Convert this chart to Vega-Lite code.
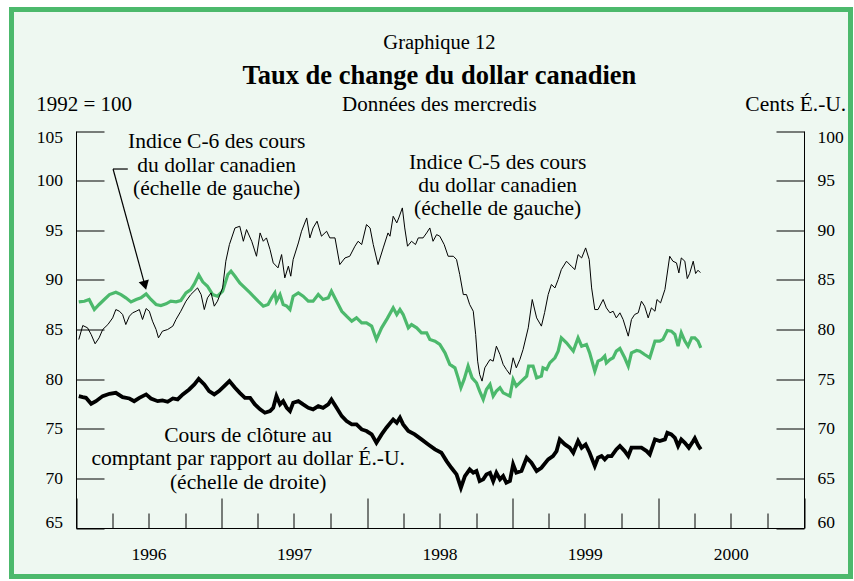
{
"$schema":"https://vega.github.io/schema/vega-lite/v6.json",
"width":839,"height":567,
"autosize":{"type":"none"},
"padding":{"left":11.5,"top":9.5,"right":3.5,"bottom":4.5},
"background":"#ffffff",
"config":{
 "view":{"fill":"#EEF8F1","stroke":"#4CB96C","strokeWidth":5},
 "font":"Liberation Serif",
 "text":{"font":"Liberation Serif","color":"#000000"},
 "axis":{"domainColor":"#000000","tickColor":"#000000","labelColor":"#000000","labelFont":"Liberation Serif","labelFontSize":17.5,"grid":false,"domainWidth":1,"tickWidth":1}
},
"datasets":{
"c6":[
{"date":"1996-01-08","valeur":87.78},{"date":"1996-01-22","valeur":87.85},{"date":"1996-02-03","valeur":88.02},{"date":"1996-02-16","valeur":87.01},{"date":"1996-02-28","valeur":87.52},{"date":"1996-03-12","valeur":88.02},{"date":"1996-03-25","valeur":88.52},{"date":"1996-04-10","valeur":88.76},{"date":"1996-04-23","valeur":88.52},{"date":"1996-05-05","valeur":88.19},{"date":"1996-05-18","valeur":87.78},{"date":"1996-05-31","valeur":88.02},{"date":"1996-06-12","valeur":88.19},{"date":"1996-06-25","valeur":88.59},{"date":"1996-07-07","valeur":88.02},{"date":"1996-07-20","valeur":87.52},{"date":"1996-08-01","valeur":87.42},{"date":"1996-08-14","valeur":87.58},{"date":"1996-08-26","valeur":87.85},{"date":"1996-09-08","valeur":87.78},{"date":"1996-09-20","valeur":87.92},{"date":"1996-10-03","valeur":88.69},{"date":"1996-10-15","valeur":89.03},{"date":"1996-10-24","valeur":89.6},{"date":"1996-11-04","valeur":90.5},{"date":"1996-11-14","valeur":89.8},{"date":"1996-11-26","valeur":89.36},{"date":"1996-12-09","valeur":88.52},{"date":"1996-12-21","valeur":88.36},{"date":"1997-01-03","valeur":88.86},{"date":"1997-01-16","valeur":90.54},{"date":"1997-01-24","valeur":90.87},{"date":"1997-02-03","valeur":90.37},{"date":"1997-02-15","valeur":89.7},{"date":"1997-02-28","valeur":89.19},{"date":"1997-03-13","valeur":88.69},{"date":"1997-03-25","valeur":88.19},{"date":"1997-04-02","valeur":87.85},{"date":"1997-04-15","valeur":87.35},{"date":"1997-04-27","valeur":87.52},{"date":"1997-05-06","valeur":88.19},{"date":"1997-05-14","valeur":88.69},{"date":"1997-05-18","valeur":87.85},{"date":"1997-05-27","valeur":88.52},{"date":"1997-06-04","valeur":87.52},{"date":"1997-06-13","valeur":87.35},{"date":"1997-06-21","valeur":87.01},{"date":"1997-06-29","valeur":88.36},{"date":"1997-07-12","valeur":88.69},{"date":"1997-07-24","valeur":88.36},{"date":"1997-08-06","valeur":87.85},{"date":"1997-08-18","valeur":87.85},{"date":"1997-08-31","valeur":88.52},{"date":"1997-09-12","valeur":88.02},{"date":"1997-09-25","valeur":88.19},{"date":"1997-10-03","valeur":88.86},{"date":"1997-10-16","valeur":87.85},{"date":"1997-10-29","valeur":86.84},{"date":"1997-11-10","valeur":86.34},{"date":"1997-11-23","valeur":85.84},{"date":"1997-12-05","valeur":86.17},{"date":"1997-12-18","valeur":85.67},{"date":"1997-12-30","valeur":85.67},{"date":"1998-01-12","valeur":85.34},{"date":"1998-01-24","valeur":84.0},{"date":"1998-02-06","valeur":85.17},{"date":"1998-02-20","valeur":86.1},{"date":"1998-03-07","valeur":87.18},{"date":"1998-03-16","valeur":86.51},{"date":"1998-03-24","valeur":87.01},{"date":"1998-04-01","valeur":86.51},{"date":"1998-04-14","valeur":85.17},{"date":"1998-04-22","valeur":85.5},{"date":"1998-05-05","valeur":85.17},{"date":"1998-05-17","valeur":84.66},{"date":"1998-05-30","valeur":84.66},{"date":"1998-06-07","valeur":84.0},{"date":"1998-06-20","valeur":83.83},{"date":"1998-07-02","valeur":83.49},{"date":"1998-07-15","valeur":82.65},{"date":"1998-07-27","valeur":81.48},{"date":"1998-08-09","valeur":81.14},{"date":"1998-08-17","valeur":80.13},{"date":"1998-08-24","valeur":79.13},{"date":"1998-09-01","valeur":79.97},{"date":"1998-09-11","valeur":81.31},{"date":"1998-09-21","valeur":80.13},{"date":"1998-10-02","valeur":79.63},{"date":"1998-10-10","valeur":78.79},{"date":"1998-10-19","valeur":77.95},{"date":"1998-10-27","valeur":78.96},{"date":"1998-11-05","valeur":79.46},{"date":"1998-11-13","valeur":78.29},{"date":"1998-11-21","valeur":78.79},{"date":"1998-11-30","valeur":79.13},{"date":"1998-12-08","valeur":78.62},{"date":"1998-12-16","valeur":78.46},{"date":"1998-12-25","valeur":78.29},{"date":"1999-01-02","valeur":79.97},{"date":"1999-01-10","valeur":79.3},{"date":"1999-01-23","valeur":79.8},{"date":"1999-02-05","valeur":80.3},{"date":"1999-02-10","valeur":81.31},{"date":"1999-02-21","valeur":81.31},{"date":"1999-03-02","valeur":80.13},{"date":"1999-03-14","valeur":80.3},{"date":"1999-03-18","valeur":81.14},{"date":"1999-03-27","valeur":80.97},{"date":"1999-04-04","valeur":81.64},{"date":"1999-04-17","valeur":82.15},{"date":"1999-04-25","valeur":82.82},{"date":"1999-05-03","valeur":84.16},{"date":"1999-05-16","valeur":83.66},{"date":"1999-06-02","valeur":82.82},{"date":"1999-06-14","valeur":84.16},{"date":"1999-06-23","valeur":83.32},{"date":"1999-07-05","valeur":83.49},{"date":"1999-07-13","valeur":82.65},{"date":"1999-07-26","valeur":80.8},{"date":"1999-08-03","valeur":81.81},{"date":"1999-08-12","valeur":81.98},{"date":"1999-08-20","valeur":82.32},{"date":"1999-08-24","valeur":81.64},{"date":"1999-09-02","valeur":81.98},{"date":"1999-09-10","valeur":82.15},{"date":"1999-09-18","valeur":82.82},{"date":"1999-09-27","valeur":83.09},{"date":"1999-10-09","valeur":82.15},{"date":"1999-10-18","valeur":81.31},{"date":"1999-10-26","valeur":82.65},{"date":"1999-11-08","valeur":82.89},{"date":"1999-11-16","valeur":82.82},{"date":"1999-11-28","valeur":82.48},{"date":"1999-12-11","valeur":82.15},{"date":"1999-12-24","valeur":83.83},{"date":"2000-01-05","valeur":83.83},{"date":"2000-01-13","valeur":84.0},{"date":"2000-01-24","valeur":84.9},{"date":"2000-02-03","valeur":84.83},{"date":"2000-02-12","valeur":84.5},{"date":"2000-02-20","valeur":83.32},{"date":"2000-02-28","valeur":84.66},{"date":"2000-03-08","valeur":83.83},{"date":"2000-03-16","valeur":83.32},{"date":"2000-03-25","valeur":84.16},{"date":"2000-04-02","valeur":84.16},{"date":"2000-04-10","valeur":83.83},{"date":"2000-04-17","valeur":83.15}
],
"c5":[
{"date":"1996-01-08","valeur":83.99},{"date":"1996-01-18","valeur":85.4},{"date":"1996-01-30","valeur":85.17},{"date":"1996-02-08","valeur":84.5},{"date":"1996-02-18","valeur":83.56},{"date":"1996-02-28","valeur":84.16},{"date":"1996-03-08","valeur":85.0},{"date":"1996-03-21","valeur":85.5},{"date":"1996-04-02","valeur":86.17},{"date":"1996-04-10","valeur":87.01},{"date":"1996-04-19","valeur":86.84},{"date":"1996-04-27","valeur":86.51},{"date":"1996-05-05","valeur":85.5},{"date":"1996-05-14","valeur":86.34},{"date":"1996-05-22","valeur":86.68},{"date":"1996-05-31","valeur":86.84},{"date":"1996-06-08","valeur":87.01},{"date":"1996-06-16","valeur":86.01},{"date":"1996-06-25","valeur":87.11},{"date":"1996-07-03","valeur":86.84},{"date":"1996-07-11","valeur":85.84},{"date":"1996-07-20","valeur":85.0},{"date":"1996-07-26","valeur":84.16},{"date":"1996-08-05","valeur":84.83},{"date":"1996-08-18","valeur":85.0},{"date":"1996-08-31","valeur":85.34},{"date":"1996-09-08","valeur":86.01},{"date":"1996-09-20","valeur":86.84},{"date":"1996-10-03","valeur":87.85},{"date":"1996-10-15","valeur":88.52},{"date":"1996-11-01","valeur":89.19},{"date":"1996-11-10","valeur":88.52},{"date":"1996-11-18","valeur":87.01},{"date":"1996-11-26","valeur":88.19},{"date":"1996-12-05","valeur":88.69},{"date":"1996-12-13","valeur":87.35},{"date":"1996-12-21","valeur":87.85},{"date":"1997-01-03","valeur":89.19},{"date":"1997-01-11","valeur":91.88},{"date":"1997-01-20","valeur":93.56},{"date":"1997-02-03","valeur":95.23},{"date":"1997-02-15","valeur":95.4},{"date":"1997-02-24","valeur":93.89},{"date":"1997-03-04","valeur":95.07},{"date":"1997-03-17","valeur":93.89},{"date":"1997-03-29","valeur":92.38},{"date":"1997-04-07","valeur":94.73},{"date":"1997-04-15","valeur":93.89},{"date":"1997-04-23","valeur":94.23},{"date":"1997-05-02","valeur":93.05},{"date":"1997-05-10","valeur":91.71},{"date":"1997-05-22","valeur":91.21},{"date":"1997-05-31","valeur":92.55},{"date":"1997-06-08","valeur":90.2},{"date":"1997-06-17","valeur":91.38},{"date":"1997-06-23","valeur":90.37},{"date":"1997-06-29","valeur":92.05},{"date":"1997-07-12","valeur":93.72},{"date":"1997-07-20","valeur":94.9},{"date":"1997-08-02","valeur":96.24},{"date":"1997-08-10","valeur":94.23},{"date":"1997-08-18","valeur":95.23},{"date":"1997-08-28","valeur":95.91},{"date":"1997-09-08","valeur":94.4},{"date":"1997-09-21","valeur":94.9},{"date":"1997-09-29","valeur":94.23},{"date":"1997-10-12","valeur":94.23},{"date":"1997-10-24","valeur":91.54},{"date":"1997-11-06","valeur":92.21},{"date":"1997-11-18","valeur":92.38},{"date":"1997-12-01","valeur":93.39},{"date":"1997-12-09","valeur":93.89},{"date":"1997-12-18","valeur":93.56},{"date":"1997-12-30","valeur":95.57},{"date":"1998-01-08","valeur":95.23},{"date":"1998-01-16","valeur":93.56},{"date":"1998-01-28","valeur":91.54},{"date":"1998-02-10","valeur":93.22},{"date":"1998-02-22","valeur":94.73},{"date":"1998-02-27","valeur":94.4},{"date":"1998-03-07","valeur":96.41},{"date":"1998-03-16","valeur":95.74},{"date":"1998-03-21","valeur":96.24},{"date":"1998-03-30","valeur":97.25},{"date":"1998-04-05","valeur":95.23},{"date":"1998-04-12","valeur":93.39},{"date":"1998-04-22","valeur":93.89},{"date":"1998-05-02","valeur":93.56},{"date":"1998-05-09","valeur":94.23},{"date":"1998-05-21","valeur":94.23},{"date":"1998-05-30","valeur":94.73},{"date":"1998-06-07","valeur":95.23},{"date":"1998-06-15","valeur":93.89},{"date":"1998-06-24","valeur":94.56},{"date":"1998-07-02","valeur":94.4},{"date":"1998-07-13","valeur":93.56},{"date":"1998-07-23","valeur":92.38},{"date":"1998-08-05","valeur":92.38},{"date":"1998-08-13","valeur":92.05},{"date":"1998-08-21","valeur":90.54},{"date":"1998-08-30","valeur":88.52},{"date":"1998-09-07","valeur":88.52},{"date":"1998-09-15","valeur":87.52},{"date":"1998-09-24","valeur":86.84},{"date":"1998-09-30","valeur":84.5},{"date":"1998-10-05","valeur":81.81},{"date":"1998-10-10","valeur":80.47},{"date":"1998-10-16","valeur":79.8},{"date":"1998-10-23","valeur":81.14},{"date":"1998-11-05","valeur":81.98},{"date":"1998-11-13","valeur":81.81},{"date":"1998-11-21","valeur":83.32},{"date":"1998-11-30","valeur":82.48},{"date":"1998-12-08","valeur":81.48},{"date":"1998-12-16","valeur":80.97},{"date":"1998-12-25","valeur":80.47},{"date":"1999-01-02","valeur":82.15},{"date":"1999-01-10","valeur":81.14},{"date":"1999-01-19","valeur":81.98},{"date":"1999-01-27","valeur":82.99},{"date":"1999-02-09","valeur":85.17},{"date":"1999-02-19","valeur":88.02},{"date":"1999-03-02","valeur":86.17},{"date":"1999-03-14","valeur":85.34},{"date":"1999-03-22","valeur":86.7},{"date":"1999-03-31","valeur":88.52},{"date":"1999-04-08","valeur":89.53},{"date":"1999-04-17","valeur":89.19},{"date":"1999-04-25","valeur":90.03},{"date":"1999-05-03","valeur":91.04},{"date":"1999-05-16","valeur":91.88},{"date":"1999-05-28","valeur":91.38},{"date":"1999-06-06","valeur":91.04},{"date":"1999-06-14","valeur":92.55},{"date":"1999-06-23","valeur":92.21},{"date":"1999-07-03","valeur":93.22},{"date":"1999-07-12","valeur":92.05},{"date":"1999-07-18","valeur":89.19},{"date":"1999-07-26","valeur":87.01},{"date":"1999-08-03","valeur":87.01},{"date":"1999-08-16","valeur":88.02},{"date":"1999-08-24","valeur":87.18},{"date":"1999-09-02","valeur":86.68},{"date":"1999-09-10","valeur":86.84},{"date":"1999-09-18","valeur":86.17},{"date":"1999-09-27","valeur":86.68},{"date":"1999-10-05","valeur":86.01},{"date":"1999-10-18","valeur":84.33},{"date":"1999-10-26","valeur":86.01},{"date":"1999-11-03","valeur":86.51},{"date":"1999-11-12","valeur":86.68},{"date":"1999-11-20","valeur":87.85},{"date":"1999-11-28","valeur":87.35},{"date":"1999-12-07","valeur":86.17},{"date":"1999-12-15","valeur":87.18},{"date":"1999-12-24","valeur":86.84},{"date":"1999-12-29","valeur":88.02},{"date":"2000-01-07","valeur":87.68},{"date":"2000-01-18","valeur":89.03},{"date":"2000-01-30","valeur":92.38},{"date":"2000-02-07","valeur":91.88},{"date":"2000-02-16","valeur":91.71},{"date":"2000-02-22","valeur":90.7},{"date":"2000-02-28","valeur":92.21},{"date":"2000-03-08","valeur":91.88},{"date":"2000-03-14","valeur":90.13},{"date":"2000-03-20","valeur":90.64},{"date":"2000-03-29","valeur":91.88},{"date":"2000-04-04","valeur":90.64},{"date":"2000-04-10","valeur":90.97},{"date":"2000-04-16","valeur":90.73}
],
"comptant":[
{"date":"1996-01-08","valeur":73.29},{"date":"1996-01-18","valeur":73.19},{"date":"1996-01-26","valeur":73.12},{"date":"1996-02-08","valeur":72.52},{"date":"1996-02-20","valeur":72.78},{"date":"1996-03-08","valeur":73.29},{"date":"1996-03-25","valeur":73.52},{"date":"1996-04-10","valeur":73.62},{"date":"1996-04-27","valeur":73.19},{"date":"1996-05-14","valeur":73.05},{"date":"1996-05-26","valeur":72.78},{"date":"1996-06-08","valeur":73.12},{"date":"1996-06-25","valeur":73.46},{"date":"1996-07-07","valeur":73.05},{"date":"1996-07-24","valeur":72.78},{"date":"1996-08-05","valeur":72.85},{"date":"1996-08-18","valeur":72.72},{"date":"1996-08-31","valeur":73.05},{"date":"1996-09-12","valeur":72.95},{"date":"1996-09-25","valeur":73.46},{"date":"1996-10-11","valeur":73.96},{"date":"1996-10-24","valeur":74.46},{"date":"1996-11-04","valeur":75.03},{"date":"1996-11-18","valeur":74.46},{"date":"1996-11-30","valeur":73.79},{"date":"1996-12-13","valeur":73.46},{"date":"1996-12-25","valeur":73.79},{"date":"1997-01-07","valeur":74.3},{"date":"1997-01-20","valeur":74.8},{"date":"1997-02-03","valeur":74.13},{"date":"1997-02-15","valeur":73.62},{"date":"1997-02-28","valeur":73.12},{"date":"1997-03-13","valeur":73.12},{"date":"1997-03-25","valeur":72.45},{"date":"1997-04-07","valeur":71.95},{"date":"1997-04-19","valeur":71.61},{"date":"1997-05-02","valeur":71.78},{"date":"1997-05-10","valeur":72.11},{"date":"1997-05-18","valeur":73.29},{"date":"1997-05-27","valeur":72.45},{"date":"1997-06-04","valeur":72.78},{"date":"1997-06-13","valeur":72.11},{"date":"1997-06-21","valeur":71.78},{"date":"1997-06-29","valeur":72.62},{"date":"1997-07-12","valeur":72.78},{"date":"1997-07-24","valeur":72.45},{"date":"1997-08-06","valeur":72.11},{"date":"1997-08-18","valeur":71.95},{"date":"1997-08-31","valeur":72.28},{"date":"1997-09-12","valeur":72.11},{"date":"1997-09-25","valeur":72.45},{"date":"1997-10-03","valeur":72.95},{"date":"1997-10-16","valeur":72.11},{"date":"1997-10-29","valeur":71.27},{"date":"1997-11-10","valeur":70.77},{"date":"1997-11-23","valeur":70.44},{"date":"1997-12-05","valeur":70.44},{"date":"1997-12-18","valeur":69.93},{"date":"1997-12-30","valeur":69.77},{"date":"1998-01-12","valeur":69.43},{"date":"1998-01-24","valeur":68.59},{"date":"1998-02-06","valeur":69.43},{"date":"1998-02-18","valeur":70.1},{"date":"1998-03-07","valeur":70.94},{"date":"1998-03-16","valeur":70.6},{"date":"1998-03-24","valeur":71.11},{"date":"1998-04-01","valeur":70.44},{"date":"1998-04-14","valeur":69.77},{"date":"1998-04-30","valeur":69.43},{"date":"1998-05-17","valeur":68.93},{"date":"1998-06-03","valeur":68.42},{"date":"1998-06-20","valeur":67.92},{"date":"1998-07-06","valeur":67.58},{"date":"1998-07-19","valeur":66.74},{"date":"1998-07-31","valeur":66.07},{"date":"1998-08-13","valeur":65.4},{"date":"1998-08-24","valeur":64.06},{"date":"1998-09-03","valeur":65.23},{"date":"1998-09-15","valeur":65.91},{"date":"1998-09-24","valeur":65.57},{"date":"1998-10-02","valeur":65.74},{"date":"1998-10-10","valeur":64.73},{"date":"1998-10-19","valeur":64.9},{"date":"1998-10-27","valeur":65.4},{"date":"1998-11-05","valeur":65.57},{"date":"1998-11-13","valeur":64.73},{"date":"1998-11-21","valeur":65.57},{"date":"1998-11-30","valeur":64.9},{"date":"1998-12-08","valeur":65.23},{"date":"1998-12-16","valeur":64.56},{"date":"1998-12-25","valeur":64.73},{"date":"1999-01-02","valeur":66.41},{"date":"1999-01-10","valeur":65.57},{"date":"1999-01-23","valeur":65.74},{"date":"1999-02-05","valeur":67.08},{"date":"1999-02-17","valeur":66.58},{"date":"1999-03-02","valeur":65.74},{"date":"1999-03-14","valeur":66.07},{"date":"1999-03-31","valeur":66.91},{"date":"1999-04-12","valeur":67.25},{"date":"1999-04-21","valeur":67.75},{"date":"1999-04-29","valeur":68.93},{"date":"1999-05-12","valeur":68.42},{"date":"1999-05-24","valeur":68.09},{"date":"1999-06-02","valeur":67.58},{"date":"1999-06-14","valeur":68.76},{"date":"1999-06-23","valeur":68.09},{"date":"1999-07-03","valeur":68.42},{"date":"1999-07-13","valeur":67.58},{"date":"1999-07-26","valeur":66.24},{"date":"1999-08-03","valeur":67.08},{"date":"1999-08-12","valeur":67.25},{"date":"1999-08-20","valeur":66.91},{"date":"1999-08-28","valeur":67.25},{"date":"1999-09-06","valeur":67.25},{"date":"1999-09-18","valeur":67.92},{"date":"1999-09-27","valeur":68.26},{"date":"1999-10-09","valeur":67.75},{"date":"1999-10-18","valeur":67.25},{"date":"1999-10-26","valeur":68.09},{"date":"1999-11-08","valeur":68.09},{"date":"1999-11-20","valeur":68.09},{"date":"1999-12-03","valeur":67.75},{"date":"1999-12-11","valeur":67.42},{"date":"1999-12-24","valeur":68.93},{"date":"2000-01-05","valeur":68.76},{"date":"2000-01-18","valeur":68.93},{"date":"2000-01-24","valeur":69.6},{"date":"2000-02-03","valeur":69.43},{"date":"2000-02-12","valeur":69.09},{"date":"2000-02-20","valeur":68.26},{"date":"2000-02-28","valeur":68.93},{"date":"2000-03-08","valeur":68.59},{"date":"2000-03-18","valeur":68.09},{"date":"2000-03-29","valeur":68.76},{"date":"2000-04-02","valeur":69.03},{"date":"2000-04-10","valeur":68.36},{"date":"2000-04-17","valeur":67.92}
]
},
"layer":[
{"layer":[
 {"data":{"name":"c6"},"mark":{"type":"line","color":"#4CB96C","strokeWidth":3.2},
  "encoding":{
   "x":{"field":"date","type":"temporal","scale":{"type":"utc","domain":[{"year":1996,"month":1,"date":1,"utc":true},{"year":2001,"month":1,"date":1,"utc":true}],"range":[64.5,792.5],"nice":false},
    "axis":{"orient":"bottom","offset":-48.5,"title":null,"values":[{"year":1996,"month":1,"date":1,"utc":true},{"year":1996,"month":4,"date":1,"utc":true},{"year":1996,"month":7,"date":1,"utc":true},{"year":1996,"month":10,"date":1,"utc":true},{"year":1997,"month":1,"date":1,"utc":true},{"year":1997,"month":4,"date":1,"utc":true},{"year":1997,"month":7,"date":1,"utc":true},{"year":1997,"month":10,"date":1,"utc":true},{"year":1998,"month":1,"date":1,"utc":true},{"year":1998,"month":4,"date":1,"utc":true},{"year":1998,"month":7,"date":1,"utc":true},{"year":1998,"month":10,"date":1,"utc":true},{"year":1999,"month":1,"date":1,"utc":true},{"year":1999,"month":4,"date":1,"utc":true},{"year":1999,"month":7,"date":1,"utc":true},{"year":1999,"month":10,"date":1,"utc":true},{"year":2000,"month":1,"date":1,"utc":true},{"year":2000,"month":4,"date":1,"utc":true},{"year":2000,"month":7,"date":1,"utc":true},{"year":2000,"month":10,"date":1,"utc":true},{"year":2001,"month":1,"date":1,"utc":true}],
     "tickSize":{"condition":{"test":"utcmonth(datum.value) == 0","value":-30},"value":-15},
     "labelExpr":"utcmonth(datum.value) == 6 ? utcFormat(datum.value, '%Y') : ''",
     "labelPadding":32,"labelFlush":false,"labelOverlap":false,"labelBaseline":"top","labelFontSize":17.5,"labelFont":"Liberation Serif","labelColor":"#000000"}},
   "y":{"field":"valeur","type":"quantitative","scale":{"domain":[65,105],"range":[518.5,121.5],"nice":false,"zero":false},
    "axis":{"orient":"left","offset":-64.5,"title":null,"values":[65,70,75,80,85,90,95,100,105],"tickSize":-28,"labelPadding":41.5,"labelFlush":true,"labelFlushOffset":3,"labelFontSize":17.5}}}},
 {"data":{"name":"c5"},"mark":{"type":"line","color":"#000000","strokeWidth":1},
  "encoding":{
   "x":{"field":"date","type":"temporal","scale":{"type":"utc","domain":[{"year":1996,"month":1,"date":1,"utc":true},{"year":2001,"month":1,"date":1,"utc":true}],"range":[64.5,792.5],"nice":false},"axis":{"title":null}},
   "y":{"field":"valeur","type":"quantitative","scale":{"domain":[65,105],"range":[518.5,121.5],"nice":false,"zero":false},"axis":{"title":null}}}},
 {"data":{"values":[{}]},"mark":{"type":"text","align":"center","baseline":"middle","fontSize":21.5,"lineHeight":23.5},
  "encoding":{
   "x":{"datum":{"year":1996,"month":12,"date":19,"utc":true},"type":"temporal","scale":{"type":"utc","domain":[{"year":1996,"month":1,"date":1,"utc":true},{"year":2001,"month":1,"date":1,"utc":true}],"range":[64.5,792.5],"nice":false},"axis":{"title":null}},
   "y":{"datum":103.89,"type":"quantitative","scale":{"domain":[65,105],"range":[518.5,121.5],"nice":false,"zero":false},"axis":{"title":null}},
   "text":{"value":["Indice C-6 des cours","du dollar canadien","(échelle de gauche)"]}}},
 {"data":{"values":[{}]},"mark":{"type":"text","align":"center","baseline":"middle","fontSize":21.5,"lineHeight":23},
  "encoding":{
   "x":{"datum":{"year":1998,"month":11,"date":24,"utc":true},"type":"temporal","scale":{"type":"utc","domain":[{"year":1996,"month":1,"date":1,"utc":true},{"year":2001,"month":1,"date":1,"utc":true}],"range":[64.5,792.5],"nice":false},"axis":{"title":null}},
   "y":{"datum":101.78,"type":"quantitative","scale":{"domain":[65,105],"range":[518.5,121.5],"nice":false,"zero":false},"axis":{"title":null}},
   "text":{"value":["Indice C-5 des cours","du dollar canadien","(échelle de gauche)"]}}},
 {"data":{"values":[{}]},"mark":{"type":"text","align":"center","baseline":"middle","fontSize":21.5,"lineHeight":23.5},
  "encoding":{
   "x":{"datum":{"year":1997,"month":3,"date":8,"utc":true},"type":"temporal","scale":{"type":"utc","domain":[{"year":1996,"month":1,"date":1,"utc":true},{"year":2001,"month":1,"date":1,"utc":true}],"range":[64.5,792.5],"nice":false},"axis":{"title":null}},
   "y":{"datum":74.27,"type":"quantitative","scale":{"domain":[65,105],"range":[518.5,121.5],"nice":false,"zero":false},"axis":{"title":null}},
   "text":{"value":["Cours de clôture au","comptant par rapport au dollar É.-U.","(échelle de droite)"]}}},
 {"data":{"values":[{}]},"mark":{"type":"text","align":"center","baseline":"middle","fontSize":20.5},
  "encoding":{
   "x":{"datum":{"year":1998,"month":7,"date":1,"utc":true},"type":"temporal","scale":{"type":"utc","domain":[{"year":1996,"month":1,"date":1,"utc":true},{"year":2001,"month":1,"date":1,"utc":true}],"range":[64.5,792.5],"nice":false},"axis":{"title":null}},
   "y":{"datum":113.87,"type":"quantitative","scale":{"domain":[65,105],"range":[518.5,121.5],"nice":false,"zero":false},"axis":{"title":null}},
   "text":{"value":"Graphique 12"}}},
 {"data":{"values":[{}]},"mark":{"type":"text","align":"center","baseline":"middle","fontSize":26.5,"fontWeight":"bold"},
  "encoding":{
   "x":{"datum":{"year":1998,"month":7,"date":1,"utc":true},"type":"temporal","scale":{"type":"utc","domain":[{"year":1996,"month":1,"date":1,"utc":true},{"year":2001,"month":1,"date":1,"utc":true}],"range":[64.5,792.5],"nice":false},"axis":{"title":null}},
   "y":{"datum":110.54,"type":"quantitative","scale":{"domain":[65,105],"range":[518.5,121.5],"nice":false,"zero":false},"axis":{"title":null}},
   "text":{"value":"Taux de change du dollar canadien"}}},
 {"data":{"values":[{}]},"mark":{"type":"text","align":"center","baseline":"middle","fontSize":21},
  "encoding":{
   "x":{"datum":{"year":1998,"month":7,"date":1,"utc":true},"type":"temporal","scale":{"type":"utc","domain":[{"year":1996,"month":1,"date":1,"utc":true},{"year":2001,"month":1,"date":1,"utc":true}],"range":[64.5,792.5],"nice":false},"axis":{"title":null}},
   "y":{"datum":107.67,"type":"quantitative","scale":{"domain":[65,105],"range":[518.5,121.5],"nice":false,"zero":false},"axis":{"title":null}},
   "text":{"value":"Données des mercredis"}}},
 {"data":{"values":[{}]},"mark":{"type":"text","align":"left","baseline":"middle","fontSize":21},
  "encoding":{
   "x":{"datum":{"year":1995,"month":9,"date":23,"utc":true},"type":"temporal","scale":{"type":"utc","domain":[{"year":1996,"month":1,"date":1,"utc":true},{"year":2001,"month":1,"date":1,"utc":true}],"range":[64.5,792.5],"nice":false},"axis":{"title":null}},
   "y":{"datum":107.67,"type":"quantitative","scale":{"domain":[65,105],"range":[518.5,121.5],"nice":false,"zero":false},"axis":{"title":null}},
   "text":{"value":"1992 = 100"}}},
 {"data":{"values":[{}]},"mark":{"type":"text","align":"right","baseline":"middle","fontSize":21.5},
  "encoding":{
   "x":{"datum":{"year":2001,"month":4,"date":17,"utc":true},"type":"temporal","scale":{"type":"utc","domain":[{"year":1996,"month":1,"date":1,"utc":true},{"year":2001,"month":1,"date":1,"utc":true}],"range":[64.5,792.5],"nice":false},"axis":{"title":null}},
   "y":{"datum":107.67,"type":"quantitative","scale":{"domain":[65,105],"range":[518.5,121.5],"nice":false,"zero":false},"axis":{"title":null}},
   "text":{"value":"Cents É.-U."}}},
 {"data":{"values":[{}]},"mark":{"type":"rule","color":"#000000","strokeWidth":1.2},
  "encoding":{
   "x":{"datum":{"year":1996,"month":4,"date":3,"utc":true},"type":"temporal","scale":{"type":"utc","domain":[{"year":1996,"month":1,"date":1,"utc":true},{"year":2001,"month":1,"date":1,"utc":true}],"range":[64.5,792.5],"nice":false},"axis":{"title":null}},
   "x2":{"datum":{"year":1996,"month":5,"date":10,"utc":true}},
   "y":{"datum":101.17,"type":"quantitative","scale":{"domain":[65,105],"range":[518.5,121.5],"nice":false,"zero":false},"axis":{"title":null}},
   "y2":{"datum":101.17}}},
 {"data":{"values":[{}]},"mark":{"type":"rule","color":"#000000","strokeWidth":1.2},
  "encoding":{
   "x":{"datum":{"year":1996,"month":4,"date":3,"utc":true},"type":"temporal","scale":{"type":"utc","domain":[{"year":1996,"month":1,"date":1,"utc":true},{"year":2001,"month":1,"date":1,"utc":true}],"range":[64.5,792.5],"nice":false},"axis":{"title":null}},
   "x2":{"datum":{"year":1996,"month":6,"date":21,"utc":true}},
   "y":{"datum":101.17,"type":"quantitative","scale":{"domain":[65,105],"range":[518.5,121.5],"nice":false,"zero":false},"axis":{"title":null}},
   "y2":{"datum":89.6}}},
 {"data":{"values":[{}]},"mark":{"type":"point","shape":"triangle-down","filled":true,"color":"#000000","opacity":1,"size":110,"angle":345},
  "encoding":{
   "x":{"datum":{"year":1996,"month":6,"date":22,"utc":true},"type":"temporal","scale":{"type":"utc","domain":[{"year":1996,"month":1,"date":1,"utc":true},{"year":2001,"month":1,"date":1,"utc":true}],"range":[64.5,792.5],"nice":false},"axis":{"title":null}},
   "y":{"datum":89.45,"type":"quantitative","scale":{"domain":[65,105],"range":[518.5,121.5],"nice":false,"zero":false},"axis":{"title":null}}}}
]},
{"layer":[
 {"data":{"name":"comptant"},"mark":{"type":"line","color":"#000000","strokeWidth":3.8},
  "encoding":{
   "x":{"field":"date","type":"temporal","scale":{"type":"utc","domain":[{"year":1996,"month":1,"date":1,"utc":true},{"year":2001,"month":1,"date":1,"utc":true}],"range":[64.5,792.5],"nice":false},"axis":{"title":null,"labelFontSize":17.5}},
   "y":{"field":"valeur","type":"quantitative","scale":{"domain":[60,100],"range":[518.5,121.5],"nice":false,"zero":false},
    "axis":{"orient":"right","offset":-46.5,"title":null,"values":[60,65,70,75,80,85,90,95,100],"tickSize":-28,"labelPadding":41,"labelFlush":true,"labelFlushOffset":3,"labelFontSize":17.5}}}}
]}
],
"resolve":{"scale":{"y":"independent"}}
}
